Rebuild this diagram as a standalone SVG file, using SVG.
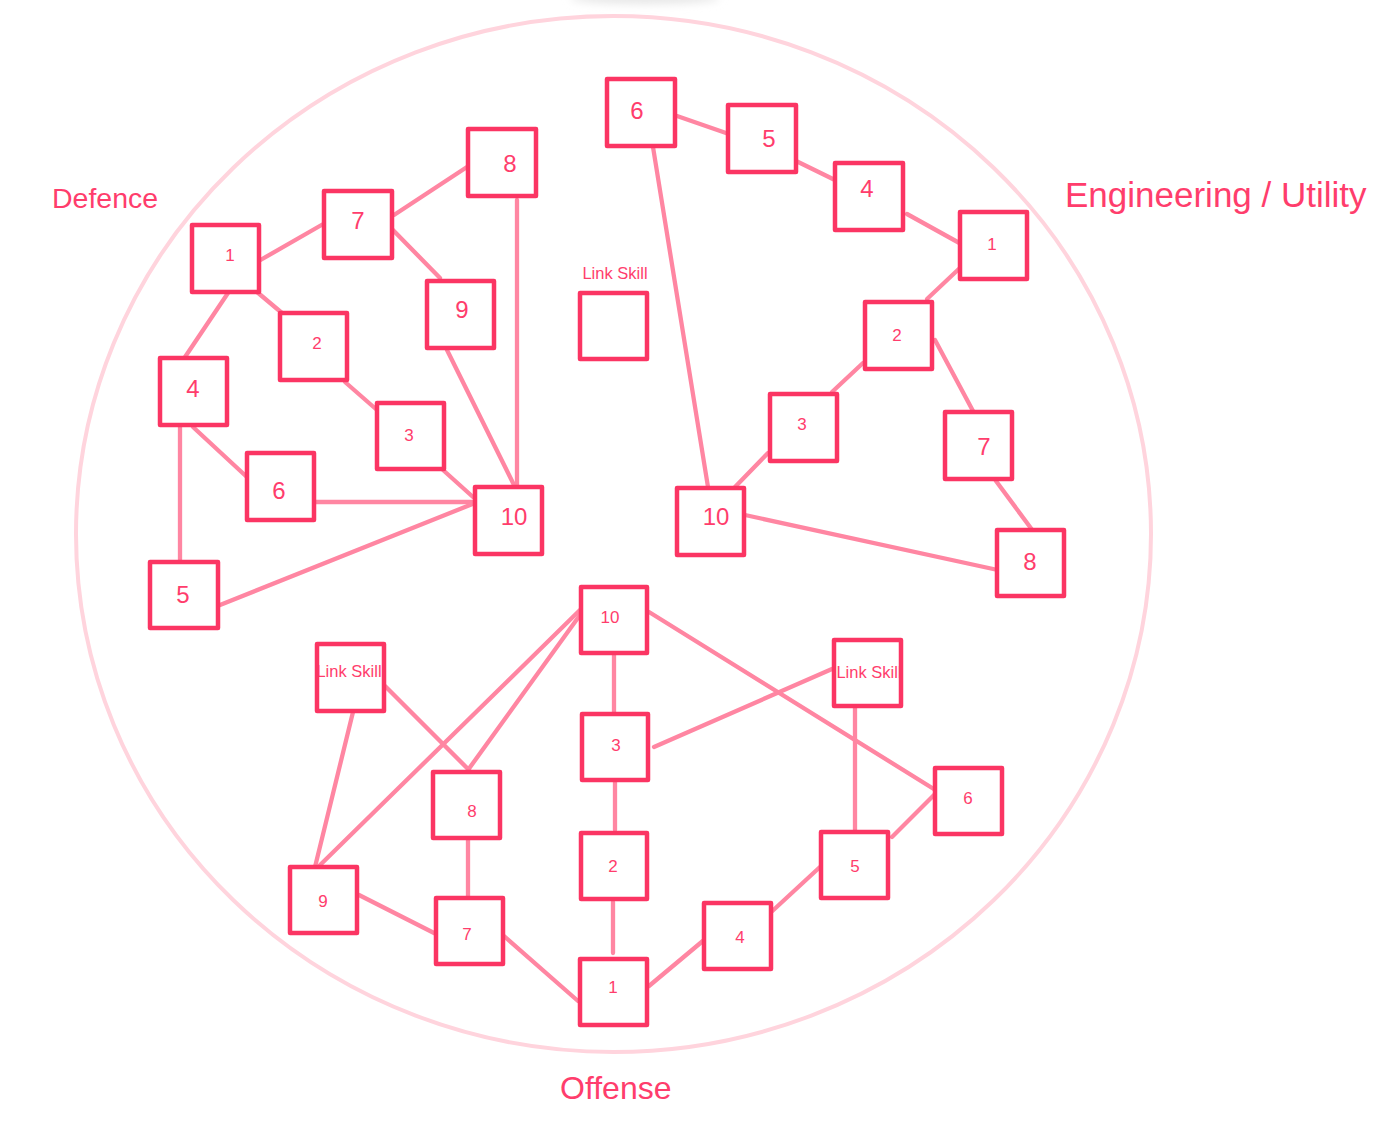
<svg xmlns="http://www.w3.org/2000/svg" width="1381" height="1133" viewBox="0 0 1381 1133">
<defs>
<style>
.bg{fill:#ffffff}
.ring{fill:none;stroke:#ffd4dd;stroke-width:4}
.box{fill:#ffffff;stroke:#fb3563;stroke-width:4.5;stroke-linejoin:round}
.fillonly{fill:#ffffff;stroke:none}
.strokeonly{fill:none;stroke:#fb3563;stroke-width:4.5;stroke-linejoin:round}
.edge{stroke:#ff86a2;stroke-width:4.3;stroke-linecap:round;fill:none}
.lbl{font-family:"Liberation Sans",Arial,sans-serif;fill:#ff3d6c;text-anchor:middle;dominant-baseline:central}
.s{font-size:17px}
.l{font-size:24px}
.ls{font-size:16.5px}
.title{font-family:"Liberation Sans",Arial,sans-serif;fill:#ff3d6c}
</style>
<filter id="blur" x="-20%" y="-200%" width="140%" height="500%"><feGaussianBlur stdDeviation="4"/></filter>
</defs>
<rect class="bg" x="0" y="0" width="1381" height="1133"/>
<ellipse cx="645" cy="-2" rx="75" ry="6" fill="#e6e6e6" filter="url(#blur)"/>
<ellipse class="ring" cx="613.5" cy="534" rx="537.5" ry="518"/>

<text class="title" x="52" y="208" font-size="28.5">Defence</text>
<text class="title" x="1065" y="207" font-size="35">Engineering / Utility</text>
<text class="title" x="560" y="1099" font-size="32">Offense</text>

<g id="connectors">
<!-- Defence -->
<line class="edge" x1="257" y1="262" x2="325" y2="223"/>
<line class="edge" x1="394" y1="215" x2="467" y2="167"/>
<line class="edge" x1="390" y1="227" x2="440" y2="278"/>
<line class="edge" x1="257" y1="292" x2="282" y2="313"/>
<line class="edge" x1="228" y1="293" x2="183" y2="360"/>
<line class="edge" x1="345" y1="382" x2="377" y2="410"/>
<line class="edge" x1="447" y1="350" x2="515" y2="487"/>
<line class="edge" x1="517" y1="200" x2="517" y2="487"/>
<line class="edge" x1="443" y1="470" x2="473" y2="497"/>
<line class="edge" x1="193" y1="427" x2="248" y2="478"/>
<line class="edge" x1="180" y1="427" x2="180" y2="568"/>
<line class="edge" x1="315" y1="502" x2="475" y2="502"/>
<line class="edge" x1="220" y1="605" x2="475" y2="503"/>
<!-- Engineering -->
<line class="edge" x1="677" y1="116" x2="726" y2="133"/>
<line class="edge" x1="792" y1="159" x2="837" y2="181"/>
<line class="edge" x1="907" y1="214" x2="963" y2="245"/>
<line class="edge" x1="962" y1="266" x2="927" y2="299"/>
<line class="edge" x1="863" y1="363" x2="832" y2="392"/>
<line class="edge" x1="935" y1="340" x2="973" y2="411"/>
<line class="edge" x1="768" y1="453" x2="735" y2="487"/>
<line class="edge" x1="653" y1="147" x2="708" y2="487"/>
<line class="edge" x1="745" y1="515" x2="1007" y2="572"/>
<line class="edge" x1="996" y1="481" x2="1033" y2="531"/>
<!-- Offense -->
<line class="edge" x1="614" y1="648" x2="614" y2="718"/>
<line class="edge" x1="615" y1="777" x2="615" y2="830"/>
<line class="edge" x1="613" y1="902" x2="613" y2="953"/>
<line class="edge" x1="580" y1="610" x2="315" y2="870"/>
<line class="edge" x1="580" y1="615" x2="468" y2="770"/>
<line class="edge" x1="385" y1="686" x2="469" y2="770"/>
<line class="edge" x1="353" y1="712" x2="315" y2="867"/>
<line class="edge" x1="468" y1="840" x2="468" y2="900"/>
<line class="edge" x1="359" y1="895" x2="436" y2="934"/>
<line class="edge" x1="504" y1="936" x2="578" y2="1001"/>
<line class="edge" x1="649" y1="986" x2="704" y2="940"/>
<line class="edge" x1="768" y1="915" x2="820" y2="867"/>
<line class="edge" x1="892" y1="837" x2="937" y2="792"/>
<line class="edge" x1="649" y1="612" x2="937" y2="791"/>
<line class="edge" x1="855" y1="708" x2="855" y2="837"/>
<line class="edge" x1="654" y1="747" x2="832" y2="669"/>
</g>

<!-- Defence nodes -->
<g id="def-1"><rect class="box" x="192" y="225" width="67" height="67"/><text class="lbl s" x="230" y="255">1</text></g>
<g id="def-7"><rect class="box" x="324" y="191" width="68" height="67"/><text class="lbl l" x="358" y="220">7</text></g>
<g id="def-8"><rect class="box" x="468" y="129" width="68" height="67"/><text class="lbl l" x="510" y="163">8</text></g>
<g id="def-9"><rect class="box" x="427" y="281" width="67" height="67"/><text class="lbl l" x="462" y="309">9</text></g>
<g id="def-2"><rect class="box" x="280" y="313" width="67" height="67"/><text class="lbl s" x="317" y="343">2</text></g>
<g id="def-4"><rect class="box" x="160" y="358" width="67" height="67"/><text class="lbl l" x="193" y="388">4</text></g>
<g id="def-3"><rect class="box" x="377" y="403" width="67" height="66"/><text class="lbl s" x="409" y="435">3</text></g>
<g id="def-6"><rect class="box" x="247" y="453" width="67" height="67"/><text class="lbl l" x="279" y="490">6</text></g>
<g id="def-10"><rect class="box" x="475" y="487" width="67" height="67"/><text class="lbl l" x="514" y="516">10</text></g>
<g id="def-5"><rect class="box" x="150" y="562" width="68" height="66"/><text class="lbl l" x="183" y="594">5</text></g>

<!-- Engineering nodes -->
<g id="eng-6"><rect class="box" x="607" y="79" width="68" height="67"/><text class="lbl l" x="637" y="110">6</text></g>
<g id="eng-5"><rect class="box" x="728" y="105" width="68" height="67"/><text class="lbl l" x="769" y="138">5</text></g>
<g id="eng-4"><rect class="box" x="835" y="163" width="68" height="67"/><text class="lbl l" x="867" y="188">4</text></g>
<g id="eng-1"><rect class="box" x="960" y="212" width="67" height="67"/><text class="lbl s" x="992" y="244">1</text></g>
<g id="eng-2"><rect class="box" x="865" y="302" width="67" height="67"/><text class="lbl s" x="897" y="335">2</text></g>
<g id="eng-3"><rect class="box" x="770" y="394" width="67" height="67"/><text class="lbl s" x="802" y="424">3</text></g>
<g id="eng-7"><rect class="box" x="945" y="412" width="67" height="67"/><text class="lbl l" x="984" y="446">7</text></g>
<g id="eng-10"><rect class="box" x="677" y="488" width="67" height="67"/><text class="lbl l" x="716" y="516">10</text></g>
<g id="eng-8"><rect class="box" x="997" y="530" width="67" height="66"/><text class="lbl l" x="1030" y="561">8</text></g>
<g id="eng-link"><text class="lbl ls" x="615" y="273">Link Skill</text><rect class="box" x="580" y="293" width="67" height="66"/></g>

<!-- Offense nodes -->
<g id="off-10"><rect class="box" x="581" y="587" width="66" height="66"/><text class="lbl s" x="610" y="617">10</text></g>
<g id="off-link-l"><rect class="fillonly" x="317" y="644" width="67" height="67"/><text class="lbl ls" x="349" y="671">Link Skill</text><rect class="strokeonly" x="317" y="644" width="67" height="67"/></g>
<g id="off-link-r"><rect class="fillonly" x="834" y="640" width="67" height="66"/><text class="lbl ls" x="869" y="672">Link Skill</text><rect class="strokeonly" x="834" y="640" width="67" height="66"/></g>
<g id="off-3"><rect class="box" x="582" y="714" width="66" height="66"/><text class="lbl s" x="616" y="745">3</text></g>
<g id="off-8"><rect class="box" x="433" y="772" width="67" height="66"/><text class="lbl s" x="472" y="811">8</text></g>
<g id="off-6"><rect class="box" x="935" y="768" width="67" height="66"/><text class="lbl s" x="968" y="798">6</text></g>
<g id="off-2"><rect class="box" x="581" y="833" width="66" height="66"/><text class="lbl s" x="613" y="866">2</text></g>
<g id="off-5"><rect class="box" x="821" y="832" width="67" height="66"/><text class="lbl s" x="855" y="866">5</text></g>
<g id="off-9"><rect class="box" x="290" y="867" width="67" height="66"/><text class="lbl s" x="323" y="901">9</text></g>
<g id="off-7"><rect class="box" x="436" y="898" width="67" height="66"/><text class="lbl s" x="467" y="934">7</text></g>
<g id="off-4"><rect class="box" x="704" y="903" width="67" height="66"/><text class="lbl s" x="740" y="937">4</text></g>
<g id="off-1"><rect class="box" x="580" y="959" width="67" height="66"/><text class="lbl s" x="613" y="987">1</text></g>
</svg>
